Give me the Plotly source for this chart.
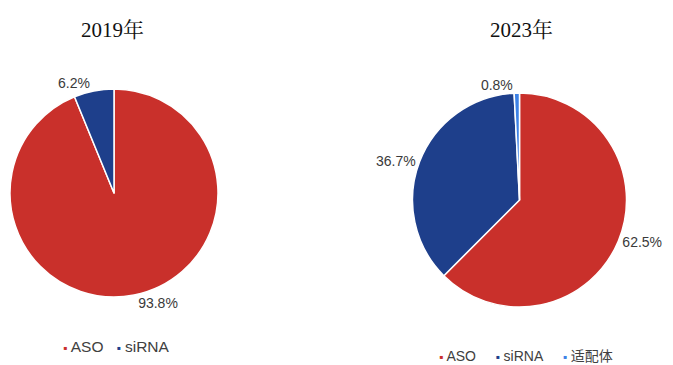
import plotly.graph_objects as go

# Market share by modality
labels_2019 = ["ASO", "siRNA"]
values_2019 = [93.8, 6.2]
labels_2023 = ["ASO", "siRNA", "适配体"]
values_2023 = [62.5, 36.7, 0.8]

colors = {"ASO": "#C9302B", "siRNA": "#1E3F8B", "适配体": "#3D82E6"}

W, H = 673, 365
label_font = dict(family="Liberation Sans, Arial, sans-serif", size=14, color="#3a3a3a")


def pie(labels, values, dom_x, dom_y):
    return go.Pie(
        labels=labels, values=values,
        marker=dict(colors=[colors[l] for l in labels], line=dict(color="white", width=1.5)),
        sort=False, direction="clockwise", rotation=0,
        textposition="outside", texttemplate="%{value:.1f}%",
        textfont=label_font, automargin=False,
        domain=dict(x=dom_x, y=dom_y),
        showlegend=False,
        hoverinfo="label+percent",
    )


fig = go.Figure()
fig.add_trace(pie(labels_2019, values_2019, [10 / W, 218 / W], [68 / H, 276 / H]))
fig.add_trace(pie(labels_2023, values_2023, [412.5 / W, 626.5 / W], [58 / H, 272 / H]))

title_font = dict(family="Liberation Serif, Noto Serif CJK SC, serif", size=21, color="#111")
fig.add_annotation(text="2019年", x=113 / W, y=1 - 30 / H, xref="paper", yref="paper",
                   xanchor="center", yanchor="middle", showarrow=False, font=title_font)
fig.add_annotation(text="2023年", x=521 / W, y=1 - 30 / H, xref="paper", yref="paper",
                   xanchor="center", yanchor="middle", showarrow=False, font=title_font)


def legend_text(labels, marker_px, gap):
    parts = []
    for l in labels:
        parts.append(f"<span style='color:{colors[l]};font-size:{marker_px}px'>▪</span> {l}")
    return gap.join(parts)


fig.add_annotation(text=legend_text(labels_2019, 12, "&nbsp;&nbsp;&nbsp;"),
                   x=116 / W, y=1 - 346.5 / H, xref="paper", yref="paper",
                   xanchor="center", yanchor="middle", showarrow=False,
                   font=dict(family="Liberation Sans, Noto Sans CJK SC, sans-serif", size=15.5, color="#404040"))
fig.add_annotation(text=legend_text(labels_2023, 12, "&nbsp;&nbsp;&nbsp;&nbsp;&nbsp;"),
                   x=526 / W, y=1 - 356 / H, xref="paper", yref="paper",
                   xanchor="center", yanchor="middle", showarrow=False,
                   font=dict(family="Liberation Sans, Noto Sans CJK SC, sans-serif", size=14, color="#404040"))

fig.update_layout(
    width=W, height=H,
    margin=dict(l=0, r=0, t=0, b=0),
    paper_bgcolor="white", plot_bgcolor="white",
    showlegend=False,
)

fig.write_html("out.html")
